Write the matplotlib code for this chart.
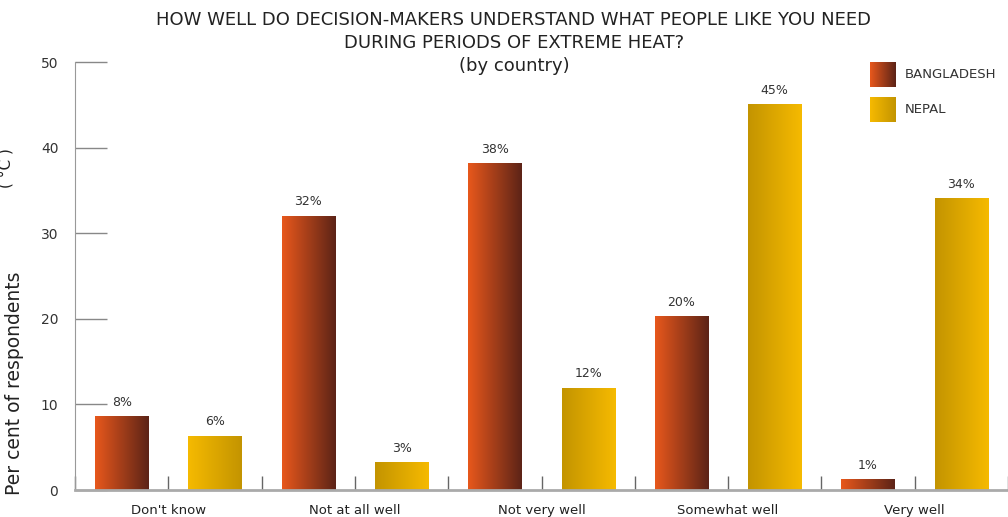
import numpy as np
import matplotlib
matplotlib.use("Agg")
import matplotlib.pyplot as plt
from matplotlib.colors import LinearSegmentedColormap

categories = ["Don't know", "Not at all well", "Not very well", "Somewhat well", "Very well"]
bangladesh = [8.6, 32.0, 38.1, 20.3, 1.2]
nepal = [6.3, 3.2, 11.9, 45.0, 34.0]
bangladesh_labels = ["8%", "32%", "38%", "20%", "1%"]
nepal_labels = ["6%", "3%", "12%", "45%", "34%"]

plt.rcParams['font.family'] = ['DejaVu Sans']

bd_cmap = LinearSegmentedColormap.from_list("bd", ["#E8581C", "#5C2317"])
np_cmap = LinearSegmentedColormap.from_list("np", ["#F6BA00", "#C39400"])
grad = np.linspace(0, 1, 256).reshape(1, -1)

fig = plt.figure(figsize=(10.08, 5.17), dpi=100)
ax = fig.add_axes([75 / 1008, 27 / 517, 1 - 75 / 1008, 428 / 517])

width = 0.285


def grad_bar(ax, x, h, cmap, flip=False):
    g = grad[:, ::-1] if flip else grad
    ax.imshow(g, cmap=cmap, aspect="auto", extent=(x - width / 2, x + width / 2, 0, h),
              interpolation="bilinear", zorder=2)


for i in range(len(categories)):
    grad_bar(ax, i - 0.25, bangladesh[i], bd_cmap)
    # the first Nepal bar runs bright to dark, the rest dark to bright
    grad_bar(ax, i + 0.25, nepal[i], np_cmap, flip=(i != 0))
    ax.text(i - 0.25, bangladesh[i] + 0.9, bangladesh_labels[i], ha="center", va="bottom",
            fontsize=9, color="#333333")
    ax.text(i + 0.25, nepal[i] + 0.9, nepal_labels[i], ha="center", va="bottom",
            fontsize=9, color="#333333")
    ax.text(i, -1.6, categories[i], ha="center", va="top", fontsize=9.5, color="#222222",
            clip_on=False)

ax.set_xlim(-0.5, 4.5)
ax.set_ylim(0, 50)
ax.set_xticks(np.arange(-0.5, 4.6, 0.5))
ax.set_xticklabels([])
ax.set_yticks([0, 10, 20, 30, 40, 50])
ax.tick_params(axis="x", direction="in", length=10, color="#666666", width=1)
ax.tick_params(axis="y", direction="in", length=23, color="#888888", width=1,
               labelsize=10, labelcolor="#333333", pad=12)
for s in ["top", "right"]:
    ax.spines[s].set_visible(False)
ax.spines["left"].set_color("#999999")
ax.spines["bottom"].set_color("#aaaaaa")
ax.spines["bottom"].set_linewidth(2)

fig.text(15 / 1008, 1 - 383 / 517, "Per cent of respondents", rotation=90, ha="center",
         va="center", fontsize=13.5, color="#222222")
fig.text(6 / 1008, 1 - 168 / 517, "( °C )", rotation=90, ha="center",
         va="center", fontsize=11, color="#222222")

fig.text(514 / 1008, 1 - 43 / 517, "HOW WELL DO DECISION-MAKERS UNDERSTAND WHAT PEOPLE LIKE YOU NEED\n"
         "DURING PERIODS OF EXTREME HEAT?\n(by country)", ha="center", va="center",
         fontsize=13, color="#222222", linespacing=1.38)

# legend swatches
for k, (name, cmap) in enumerate([("BANGLADESH", bd_cmap), ("NEPAL", np_cmap)]):
    y0 = 62 + k * 35
    lax = fig.add_axes([870 / 1008, 1 - (y0 + 25) / 517, 25 / 1008, 25 / 517])
    lax.imshow(grad, cmap=cmap, aspect="auto", interpolation="bilinear")
    lax.axis("off")
    fig.text(905 / 1008, 1 - (y0 + 12.5) / 517, name, ha="left", va="center",
             fontsize=9.5, color="#333333")

fig.savefig("out.png", dpi=100)
